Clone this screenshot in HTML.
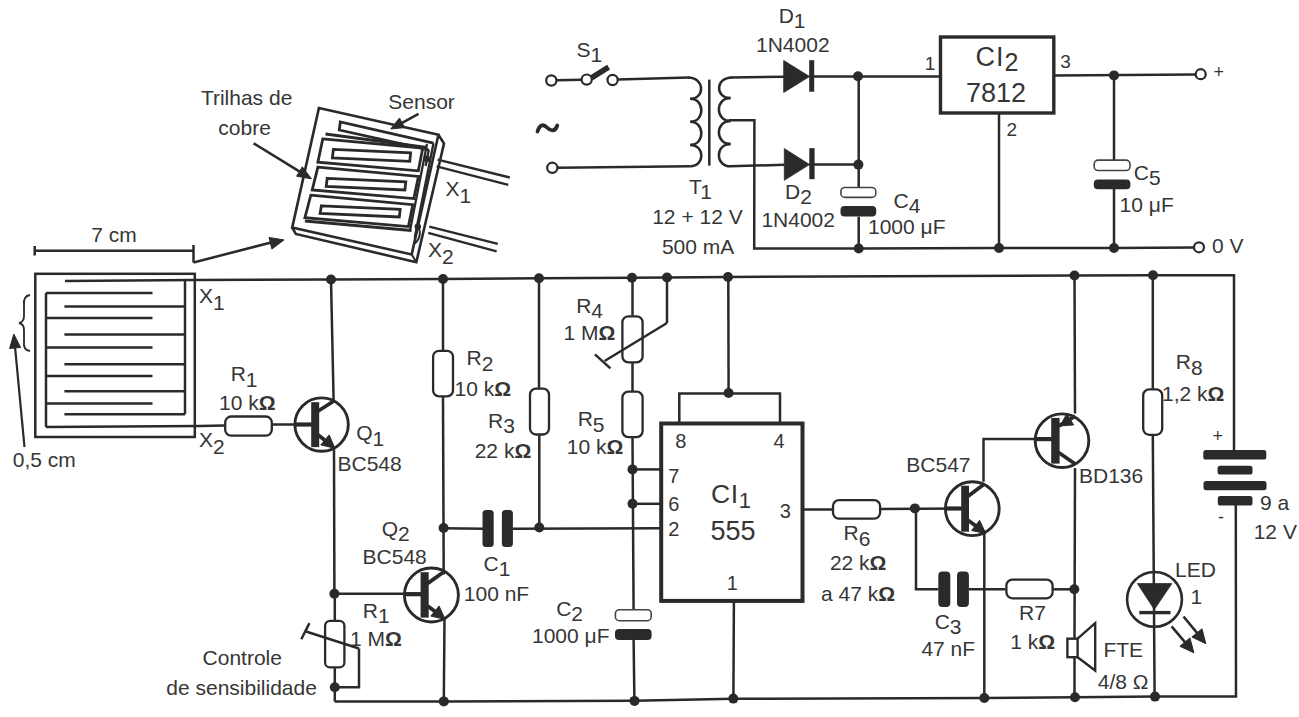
<!DOCTYPE html>
<html><head><meta charset="utf-8"><style>
html,body{margin:0;padding:0;background:#fff;overflow:hidden;}
svg{display:block;}
text{font-family:"Liberation Sans",sans-serif;fill:#363636;}
</style></head><body>
<svg width="1299" height="717" viewBox="0 0 1299 717">
<rect width="1299" height="717" fill="#ffffff"/>
<rect x="35.3" y="273.8" width="159.5" height="163.2" fill="none" stroke="#2a2a2a" stroke-width="2.5"/>
<line x1="46.0" y1="293.0" x2="46.0" y2="427.0" stroke="#2a2a2a" stroke-width="2.5" />
<line x1="46.0" y1="293.0" x2="152.5" y2="293.0" stroke="#2a2a2a" stroke-width="2.5" />
<line x1="46.0" y1="318.0" x2="152.5" y2="318.0" stroke="#2a2a2a" stroke-width="2.5" />
<line x1="46.0" y1="347.4" x2="152.5" y2="347.4" stroke="#2a2a2a" stroke-width="2.5" />
<line x1="46.0" y1="376.0" x2="152.5" y2="376.0" stroke="#2a2a2a" stroke-width="2.5" />
<line x1="46.0" y1="403.5" x2="152.5" y2="403.5" stroke="#2a2a2a" stroke-width="2.5" />
<line x1="185.0" y1="281.0" x2="185.0" y2="414.3" stroke="#2a2a2a" stroke-width="2.5" />
<line x1="64.4" y1="306.6" x2="185.0" y2="306.6" stroke="#2a2a2a" stroke-width="2.5" />
<line x1="64.4" y1="334.5" x2="185.0" y2="334.5" stroke="#2a2a2a" stroke-width="2.5" />
<line x1="64.4" y1="364.3" x2="185.0" y2="364.3" stroke="#2a2a2a" stroke-width="2.5" />
<line x1="64.4" y1="391.3" x2="185.0" y2="391.3" stroke="#2a2a2a" stroke-width="2.5" />
<line x1="64.4" y1="414.3" x2="185.0" y2="414.3" stroke="#2a2a2a" stroke-width="2.5" />
<polyline points="65.0,281.0 195.0,280.0 331.0,279.5 443.0,279.0 539.0,278.3 632.0,277.8 667.0,277.5 728.0,277.0 1074.0,275.5 1153.0,275.3 1234.0,275.3 1234.0,450.8" stroke="#2a2a2a" stroke-width="2.5" fill="none" stroke-linejoin="miter" />
<polyline points="46.0,427.0 200.0,426.0 224.5,425.5" stroke="#2a2a2a" stroke-width="2.5" fill="none" stroke-linejoin="miter" />
<path d="M30,295 Q23,296 24,305 L24,316 Q24,322 19,323 Q24,324 24,330 L24,342 Q23,350 30,351" fill="none" stroke="#2a2a2a" stroke-width="1.8"/>
<line x1="24.5" y1="447.0" x2="14.6" y2="342.4" stroke="#2a2a2a" stroke-width="2.2" />
<polygon points="13.8,334.0 20.6,347.4 9.6,348.5" stroke="#2a2a2a" stroke-width="1" fill="#2a2a2a" stroke-linejoin="miter" />
<line x1="34.7" y1="250.7" x2="193.5" y2="250.7" stroke="#2a2a2a" stroke-width="2.5" />
<line x1="34.7" y1="246.0" x2="34.7" y2="255.5" stroke="#2a2a2a" stroke-width="2.5" />
<line x1="193.5" y1="245.0" x2="193.5" y2="262.5" stroke="#2a2a2a" stroke-width="2.5" />
<line x1="193.5" y1="262.5" x2="275.0" y2="241.5" stroke="#2a2a2a" stroke-width="2.5" />
<polygon points="284.0,239.9 271.9,249.1 269.0,237.5" stroke="#2a2a2a" stroke-width="1" fill="#2a2a2a" stroke-linejoin="miter" />
<rect x="225.2" y="416.5" width="46.6" height="19.2" rx="6" fill="#fff" stroke="#2a2a2a" stroke-width="2.3"/>
<line x1="272.6" y1="424.5" x2="311.0" y2="424.5" stroke="#2a2a2a" stroke-width="2.5" />
<circle cx="321.6" cy="424.6" r="26.7" fill="none" stroke="#2a2a2a" stroke-width="2.9"/>
<line x1="294.9" y1="424.5" x2="312.2" y2="424.5" stroke="#2a2a2a" stroke-width="4.2" />
<rect x="311.2" y="402.2" width="8.0" height="44.9" rx="0" fill="#2a2a2a"/>
<line x1="318.2" y1="411.0" x2="334.7" y2="400.5" stroke="#2a2a2a" stroke-width="3.8" />
<line x1="318.2" y1="435.0" x2="330.3" y2="444.4" stroke="#2a2a2a" stroke-width="3.8" />
<polygon points="334.9,448.3 320.8,444.9 329.2,434.9" stroke="#2a2a2a" stroke-width="1" fill="#2a2a2a" stroke-linejoin="miter" />
<line x1="333.6" y1="400.0" x2="331.0" y2="279.5" stroke="#2a2a2a" stroke-width="2.5" />
<line x1="334.0" y1="447.5" x2="334.4" y2="593.7" stroke="#2a2a2a" stroke-width="2.5" />
<circle cx="331.0" cy="279.5" r="5.0" fill="#2a2a2a"/>
<line x1="443.0" y1="279.0" x2="443.0" y2="350.2" stroke="#2a2a2a" stroke-width="2.5" />
<rect x="433.1" y="350.8" width="19.9" height="45.6" rx="6" fill="#fff" stroke="#2a2a2a" stroke-width="2.3"/>
<line x1="443.0" y1="397.1" x2="443.7" y2="574.4" stroke="#2a2a2a" stroke-width="2.5" />
<circle cx="443.0" cy="279.0" r="5.0" fill="#2a2a2a"/>
<line x1="539.0" y1="278.3" x2="539.0" y2="388.0" stroke="#2a2a2a" stroke-width="2.5" />
<rect x="530.0" y="388.6" width="19.0" height="45.9" rx="6" fill="#fff" stroke="#2a2a2a" stroke-width="2.3"/>
<line x1="539.3" y1="435.2" x2="539.3" y2="527.4" stroke="#2a2a2a" stroke-width="2.5" />
<circle cx="539.0" cy="278.3" r="5.0" fill="#2a2a2a"/>
<line x1="632.5" y1="277.8" x2="632.5" y2="315.7" stroke="#2a2a2a" stroke-width="2.5" />
<rect x="622.4" y="316.3" width="20.2" height="46.1" rx="6" fill="#fff" stroke="#2a2a2a" stroke-width="2.3"/>
<line x1="632.5" y1="363.1" x2="632.5" y2="391.0" stroke="#2a2a2a" stroke-width="2.5" />
<rect x="622.4" y="391.6" width="20.2" height="45.5" rx="6" fill="#fff" stroke="#2a2a2a" stroke-width="2.3"/>
<line x1="632.5" y1="437.8" x2="633.6" y2="610.5" stroke="#2a2a2a" stroke-width="2.5" />
<circle cx="632.0" cy="277.8" r="5.0" fill="#2a2a2a"/>
<circle cx="667.0" cy="277.5" r="5.0" fill="#2a2a2a"/>
<line x1="604.6" y1="361.0" x2="667.0" y2="323.0" stroke="#2a2a2a" stroke-width="2.5" />
<line x1="594.9" y1="354.3" x2="610.4" y2="368.4" stroke="#2a2a2a" stroke-width="2.5" />
<line x1="667.0" y1="323.0" x2="667.0" y2="277.5" stroke="#2a2a2a" stroke-width="2.5" />
<rect x="661.2" y="423.5" width="141.3" height="177.4" fill="none" stroke="#2a2a2a" stroke-width="4"/>
<polyline points="679.3,423.5 679.3,393.4 780.0,393.4 780.0,423.5" stroke="#2a2a2a" stroke-width="2.5" fill="none" stroke-linejoin="miter" />
<line x1="728.6" y1="393.4" x2="728.3" y2="277.0" stroke="#2a2a2a" stroke-width="2.5" />
<circle cx="728.6" cy="393.0" r="5.0" fill="#2a2a2a"/>
<circle cx="728.0" cy="277.0" r="5.0" fill="#2a2a2a"/>
<line x1="632.5" y1="469.4" x2="661.0" y2="469.4" stroke="#2a2a2a" stroke-width="2.5" />
<circle cx="632.5" cy="469.4" r="5.0" fill="#2a2a2a"/>
<line x1="632.5" y1="503.8" x2="661.0" y2="503.8" stroke="#2a2a2a" stroke-width="2.5" />
<circle cx="632.5" cy="503.8" r="5.0" fill="#2a2a2a"/>
<line x1="443.6" y1="528.3" x2="483.0" y2="528.8" stroke="#2a2a2a" stroke-width="2.5" />
<line x1="512.4" y1="528.8" x2="661.0" y2="528.2" stroke="#2a2a2a" stroke-width="2.5" />
<circle cx="443.6" cy="528.0" r="5.0" fill="#2a2a2a"/>
<circle cx="539.3" cy="527.5" r="5.0" fill="#2a2a2a"/>
<line x1="802.5" y1="509.5" x2="832.2" y2="509.5" stroke="#2a2a2a" stroke-width="2.5" />
<line x1="733.9" y1="600.9" x2="733.4" y2="698.6" stroke="#2a2a2a" stroke-width="2.5" />
<rect x="482.5" y="509.9" width="11.2" height="37.1" rx="3.5" fill="#2a2a2a"/>
<rect x="501.9" y="509.9" width="11.0" height="37.1" rx="3.5" fill="#2a2a2a"/>
<rect x="615.4" y="609.7" width="35.8" height="11.0" rx="4" fill="#fff" stroke="#444" stroke-width="1.6"/>
<rect x="615.0" y="629.0" width="36.6" height="10.9" rx="4" fill="#2a2a2a"/>
<line x1="633.6" y1="639.2" x2="634.4" y2="700.9" stroke="#2a2a2a" stroke-width="2.5" />
<circle cx="431.4" cy="595.0" r="27.0" fill="none" stroke="#2a2a2a" stroke-width="2.9"/>
<line x1="404.4" y1="594.2" x2="421.6" y2="594.2" stroke="#2a2a2a" stroke-width="4.2" />
<rect x="420.6" y="572.2" width="8.1" height="45.4" rx="0" fill="#2a2a2a"/>
<line x1="427.7" y1="583.4" x2="444.3" y2="571.5" stroke="#2a2a2a" stroke-width="3.8" />
<line x1="427.7" y1="605.9" x2="440.4" y2="615.5" stroke="#2a2a2a" stroke-width="3.8" />
<polygon points="445.0,619.3 430.8,616.1 439.1,606.0" stroke="#2a2a2a" stroke-width="1" fill="#2a2a2a" stroke-linejoin="miter" />
<line x1="334.4" y1="593.7" x2="420.0" y2="593.7" stroke="#2a2a2a" stroke-width="2.5" />
<circle cx="334.4" cy="593.7" r="5.0" fill="#2a2a2a"/>
<line x1="444.5" y1="618.4" x2="443.8" y2="701.5" stroke="#2a2a2a" stroke-width="2.5" />
<rect x="325.1" y="620.9" width="19.3" height="46.5" rx="5" fill="#fff" stroke="#2a2a2a" stroke-width="2.3"/>
<line x1="334.8" y1="593.7" x2="334.8" y2="620.3" stroke="#2a2a2a" stroke-width="2.5" />
<line x1="334.8" y1="668.1" x2="334.8" y2="701.6" stroke="#2a2a2a" stroke-width="2.5" />
<polyline points="334.8,687.3 359.0,687.3 359.0,648.5" stroke="#2a2a2a" stroke-width="2.5" fill="none" stroke-linejoin="miter" />
<circle cx="334.8" cy="687.3" r="5.0" fill="#2a2a2a"/>
<line x1="305.2" y1="631.2" x2="359.0" y2="648.5" stroke="#2a2a2a" stroke-width="2.5" />
<line x1="301.3" y1="639.3" x2="309.4" y2="623.1" stroke="#2a2a2a" stroke-width="2.5" />
<polyline points="334.8,701.6 443.8,701.4 634.5,700.8 733.5,698.8 984.3,697.9 1075.0,697.2 1155.0,696.6 1236.0,696.5 1235.8,504.3" stroke="#2a2a2a" stroke-width="2.5" fill="none" stroke-linejoin="miter" />
<circle cx="443.8" cy="701.4" r="5.0" fill="#2a2a2a"/>
<circle cx="634.5" cy="700.9" r="5.0" fill="#2a2a2a"/>
<circle cx="733.3" cy="698.6" r="5.0" fill="#2a2a2a"/>
<circle cx="984.3" cy="698.0" r="5.0" fill="#2a2a2a"/>
<circle cx="1075.0" cy="697.2" r="5.0" fill="#2a2a2a"/>
<circle cx="1155.0" cy="696.6" r="5.0" fill="#2a2a2a"/>
<rect x="833.0" y="500.1" width="47.1" height="18.6" rx="6" fill="#fff" stroke="#2a2a2a" stroke-width="2.3"/>
<line x1="880.8" y1="509.0" x2="961.3" y2="508.4" stroke="#2a2a2a" stroke-width="2.5" />
<circle cx="914.9" cy="508.4" r="5.0" fill="#2a2a2a"/>
<circle cx="972.3" cy="508.7" r="26.9" fill="none" stroke="#2a2a2a" stroke-width="2.9"/>
<line x1="945.4" y1="508.5" x2="962.2" y2="508.5" stroke="#2a2a2a" stroke-width="4.2" />
<rect x="961.2" y="485.7" width="7.8" height="46.0" rx="0" fill="#2a2a2a"/>
<line x1="968.0" y1="496.2" x2="984.0" y2="484.3" stroke="#2a2a2a" stroke-width="3.8" />
<line x1="968.0" y1="520.2" x2="981.1" y2="529.8" stroke="#2a2a2a" stroke-width="3.8" />
<polygon points="985.8,533.5 971.6,530.5 979.6,520.3" stroke="#2a2a2a" stroke-width="1" fill="#2a2a2a" stroke-linejoin="miter" />
<polyline points="983.5,481.8 983.5,438.9 1052.0,438.9" stroke="#2a2a2a" stroke-width="2.5" fill="none" stroke-linejoin="miter" />
<line x1="984.3" y1="532.7" x2="984.3" y2="697.7" stroke="#2a2a2a" stroke-width="2.5" />
<polyline points="916.0,508.4 916.0,589.3 938.3,589.3" stroke="#2a2a2a" stroke-width="2.5" fill="none" stroke-linejoin="miter" />
<rect x="938.3" y="571.6" width="12.0" height="35.4" rx="4" fill="#2a2a2a"/>
<rect x="957.0" y="571.6" width="11.9" height="35.4" rx="4" fill="#2a2a2a"/>
<line x1="968.9" y1="589.3" x2="1005.6" y2="589.3" stroke="#2a2a2a" stroke-width="2.5" />
<rect x="1006.4" y="579.6" width="46.2" height="18.7" rx="6" fill="#fff" stroke="#2a2a2a" stroke-width="2.3"/>
<line x1="1053.3" y1="589.3" x2="1074.3" y2="589.3" stroke="#2a2a2a" stroke-width="2.5" />
<circle cx="1074.3" cy="589.3" r="5.0" fill="#2a2a2a"/>
<circle cx="1062" cy="440.7" r="26.8" fill="none" stroke="#2a2a2a" stroke-width="2.9"/>
<line x1="1035.2" y1="439.1" x2="1052.2" y2="439.1" stroke="#2a2a2a" stroke-width="4.2" />
<rect x="1051.2" y="417.9" width="8.4" height="45.7" rx="0" fill="#2a2a2a"/>
<line x1="1058.6" y1="452.5" x2="1075.2" y2="464.0" stroke="#2a2a2a" stroke-width="3.8" />
<line x1="1075.2" y1="416.2" x2="1058.6" y2="426.2" stroke="#2a2a2a" stroke-width="3.8" />
<polygon points="1060.1,425.9 1066.7,413.9 1073.7,424.9" stroke="#2a2a2a" stroke-width="1" fill="#2a2a2a" stroke-linejoin="miter" />
<line x1="1075.0" y1="413.4" x2="1074.5" y2="275.5" stroke="#2a2a2a" stroke-width="2.5" />
<line x1="1075.0" y1="468.0" x2="1074.5" y2="638.7" stroke="#2a2a2a" stroke-width="2.5" />
<line x1="1074.5" y1="657.2" x2="1074.5" y2="697.0" stroke="#2a2a2a" stroke-width="2.5" />
<circle cx="1074.5" cy="275.5" r="5.0" fill="#2a2a2a"/>
<circle cx="1153.0" cy="275.3" r="5.0" fill="#2a2a2a"/>
<rect x="1067.4" y="638.7" width="10.2" height="18.5" fill="none" stroke="#2a2a2a" stroke-width="2.4"/>
<polyline points="1077.6,638.7 1095.2,623.2 1095.2,670.5 1077.6,657.2" stroke="#2a2a2a" stroke-width="2.4" fill="none" stroke-linejoin="miter" />
<line x1="1152.8" y1="275.3" x2="1152.8" y2="388.8" stroke="#2a2a2a" stroke-width="2.5" />
<rect x="1143.2" y="389.4" width="19.0" height="45.4" rx="6" fill="#fff" stroke="#2a2a2a" stroke-width="2.3"/>
<line x1="1152.8" y1="435.5" x2="1154.6" y2="696.6" stroke="#2a2a2a" stroke-width="2.5" />
<circle cx="1154.5" cy="599.4" r="27.4" fill="none" stroke="#2a2a2a" stroke-width="2.6"/>
<polygon points="1137.4,583.6 1171.9,583.6 1154.3,609.5" stroke="#2a2a2a" stroke-width="0.8" fill="#2a2a2a" stroke-linejoin="miter" />
<line x1="1139.3" y1="612.6" x2="1170.5" y2="612.6" stroke="#2a2a2a" stroke-width="3.4" />
<line x1="1171.6" y1="626.3" x2="1188.5" y2="646.4" stroke="#2a2a2a" stroke-width="2.6" />
<polygon points="1193.9,652.8 1179.9,646.3 1189.9,637.9" stroke="#2a2a2a" stroke-width="1" fill="#2a2a2a" stroke-linejoin="miter" />
<line x1="1183.5" y1="616.5" x2="1200.5" y2="637.2" stroke="#2a2a2a" stroke-width="2.6" />
<polygon points="1205.8,643.7 1191.9,637.0 1202.0,628.8" stroke="#2a2a2a" stroke-width="1" fill="#2a2a2a" stroke-linejoin="miter" />
<rect x="1203.3" y="450.1" width="63.0" height="9.4" rx="2.6" fill="#2a2a2a"/>
<rect x="1217.6" y="465.7" width="34.9" height="8.9" rx="2.6" fill="#2a2a2a"/>
<rect x="1203.5" y="480.9" width="63.0" height="9.3" rx="2.6" fill="#2a2a2a"/>
<rect x="1217.8" y="496.0" width="34.7" height="9.5" rx="2.6" fill="#2a2a2a"/>
<circle cx="551.3" cy="80.5" r="5.1" fill="#fff" stroke="#2a2a2a" stroke-width="2.2"/>
<circle cx="586.7" cy="79.6" r="5.1" fill="#fff" stroke="#2a2a2a" stroke-width="2.2"/>
<circle cx="612.6" cy="80.0" r="5.1" fill="#fff" stroke="#2a2a2a" stroke-width="2.2"/>
<circle cx="552.3" cy="167.8" r="5.1" fill="#fff" stroke="#2a2a2a" stroke-width="2.2"/>
<line x1="556.4" y1="80.3" x2="581.6" y2="79.8" stroke="#2a2a2a" stroke-width="2.5" />
<line x1="591.5" y1="77.8" x2="608.6" y2="67.2" stroke="#2a2a2a" stroke-width="5.5" />
<line x1="617.7" y1="79.6" x2="689.0" y2="77.6" stroke="#2a2a2a" stroke-width="2.5" />
<line x1="557.4" y1="167.7" x2="690.5" y2="166.3" stroke="#2a2a2a" stroke-width="2.5" />
<path d="M688,77.6 C705,77.6 705,98.8 690.3,98.8 C705,98.8 705,121.8 690.3,121.8 C705,121.8 705,144.9 690.3,144.9 C705,144.9 705,166.3 690.3,166.3 " fill="none" stroke="#2a2a2a" stroke-width="2.5"/>
<line x1="690.3" y1="98.8" x2="694.0" y2="98.8" stroke="#2a2a2a" stroke-width="2.5" />
<line x1="690.3" y1="121.8" x2="694.0" y2="121.8" stroke="#2a2a2a" stroke-width="2.5" />
<line x1="690.3" y1="144.9" x2="694.0" y2="144.9" stroke="#2a2a2a" stroke-width="2.5" />
<line x1="709.3" y1="79.6" x2="709.3" y2="165.6" stroke="#2a2a2a" stroke-width="2.5" />
<path d="M732,77.4 C715,77.4 715,98 730.5,98 C715,98 715,121 730.5,121 C715,121 715,144 730.5,144 C715,144 715,166.3 730.5,166.3 " fill="none" stroke="#2a2a2a" stroke-width="2.5"/>
<line x1="726.0" y1="98.0" x2="730.5" y2="98.0" stroke="#2a2a2a" stroke-width="2.5" />
<line x1="726.0" y1="121.0" x2="730.5" y2="121.0" stroke="#2a2a2a" stroke-width="2.5" />
<line x1="726.0" y1="144.0" x2="730.5" y2="144.0" stroke="#2a2a2a" stroke-width="2.5" />
<polyline points="729.0,120.3 754.4,120.3 754.2,248.5 858.7,248.5 999.0,248.0 1114.0,248.0 1195.0,247.5" stroke="#2a2a2a" stroke-width="2.5" fill="none" stroke-linejoin="miter" />
<line x1="731.0" y1="77.4" x2="784.0" y2="76.8" stroke="#2a2a2a" stroke-width="2.5" />
<line x1="730.0" y1="166.2" x2="784.5" y2="164.8" stroke="#2a2a2a" stroke-width="2.5" />
<polygon points="783.7,60.5 783.7,92.5 809.5,76.5" stroke="#2a2a2a" stroke-width="0.8" fill="#2a2a2a" stroke-linejoin="miter" />
<rect x="809.2" y="60.2" width="5.0" height="31.5" rx="0" fill="#2a2a2a"/>
<polygon points="784.3,148.6 784.3,180.3 809.5,164.5" stroke="#2a2a2a" stroke-width="0.8" fill="#2a2a2a" stroke-linejoin="miter" />
<rect x="809.3" y="148.2" width="5.3" height="31.0" rx="0" fill="#2a2a2a"/>
<line x1="809.0" y1="76.6" x2="940.5" y2="76.4" stroke="#2a2a2a" stroke-width="2.5" />
<line x1="809.0" y1="164.6" x2="858.5" y2="164.6" stroke="#2a2a2a" stroke-width="2.5" />
<line x1="858.7" y1="77.2" x2="858.7" y2="187.3" stroke="#2a2a2a" stroke-width="2.5" />
<line x1="858.7" y1="216.7" x2="858.7" y2="248.5" stroke="#2a2a2a" stroke-width="2.5" />
<circle cx="858.0" cy="76.2" r="5.0" fill="#2a2a2a"/>
<circle cx="858.4" cy="164.6" r="5.0" fill="#2a2a2a"/>
<circle cx="858.7" cy="248.5" r="5.0" fill="#2a2a2a"/>
<rect x="840.9" y="187.5" width="34.9" height="9.9" rx="4" fill="#fff" stroke="#444" stroke-width="1.6"/>
<rect x="840.5" y="206.0" width="35.7" height="10.6" rx="4" fill="#2a2a2a"/>
<rect x="940.5" y="37.0" width="113.3" height="76.0" fill="none" stroke="#2a2a2a" stroke-width="3.4"/>
<line x1="1053.8" y1="75.4" x2="1195.7" y2="74.5" stroke="#2a2a2a" stroke-width="2.5" />
<line x1="999.0" y1="113.0" x2="999.0" y2="248.0" stroke="#2a2a2a" stroke-width="2.5" />
<circle cx="999.0" cy="248.0" r="5.0" fill="#2a2a2a"/>
<line x1="1114.0" y1="75.4" x2="1114.0" y2="160.0" stroke="#2a2a2a" stroke-width="2.5" />
<line x1="1114.0" y1="189.0" x2="1114.0" y2="248.0" stroke="#2a2a2a" stroke-width="2.5" />
<circle cx="1114.0" cy="75.4" r="5.0" fill="#2a2a2a"/>
<circle cx="1114.0" cy="248.0" r="5.0" fill="#2a2a2a"/>
<rect x="1094.2" y="160.1" width="35.8" height="10.4" rx="4" fill="#fff" stroke="#444" stroke-width="1.6"/>
<rect x="1093.8" y="179.5" width="36.6" height="9.8" rx="4" fill="#2a2a2a"/>
<circle cx="1200.7" cy="74.2" r="5" fill="#fff" stroke="#2a2a2a" stroke-width="2.2"/>
<circle cx="1199.0" cy="247.3" r="5" fill="#fff" stroke="#2a2a2a" stroke-width="2.2"/>
<path d="M537.5,131.5 C539.5,125 543,123.5 547,127.5 C551,131.5 555,132 557.3,125.5" fill="none" stroke="#2a2a2a" stroke-width="3.8" stroke-linecap="round"/>
<polygon points="318.9,108.1 438.4,134.8 411.7,254.4 292.2,227.6" stroke="#2a2a2a" stroke-width="2.6" fill="#fff" stroke-linejoin="miter" />
<polyline points="438.4,134.8 444.0,143.6 416.3,262.2 295.8,233.9 292.2,227.6" stroke="#2a2a2a" stroke-width="2.6" fill="none" stroke-linejoin="miter" />
<line x1="411.7" y1="254.4" x2="416.3" y2="262.2" stroke="#2a2a2a" stroke-width="2" />
<polyline points="433.5,143.2 340.3,122.0 339.3,130.0 428.8,149.8" stroke="#2a2a2a" stroke-width="2.8" fill="none" stroke-linejoin="miter" />
<polyline points="325.5,134.0 427.0,147.5" stroke="#2a2a2a" stroke-width="2.8" fill="none" stroke-linejoin="miter" />
<polygon points="322.8,138.8 422.8,148.1 418.3,170.8 317.9,162.2" stroke="#2a2a2a" stroke-width="2.8" fill="none" stroke-linejoin="miter" />
<polygon points="317.9,167.1 418.5,176.4 413.8,198.6 312.2,189.9" stroke="#2a2a2a" stroke-width="2.8" fill="none" stroke-linejoin="miter" />
<polygon points="310.8,195.2 412.8,204.7 408.4,226.6 304.9,217.7" stroke="#2a2a2a" stroke-width="2.8" fill="none" stroke-linejoin="miter" />
<polygon points="333.4,149.3 410.6,152.8 409.8,161.4 332.4,157.9" stroke="#2a2a2a" stroke-width="2.8" fill="none" stroke-linejoin="miter" />
<polygon points="327.2,178.3 405.8,181.9 404.9,190.0 326.2,186.4" stroke="#2a2a2a" stroke-width="2.8" fill="none" stroke-linejoin="miter" />
<polygon points="321.4,205.8 400.2,209.4 399.3,217.0 320.1,213.4" stroke="#2a2a2a" stroke-width="2.8" fill="none" stroke-linejoin="miter" />
<polyline points="304.9,221.0 411.5,230.5" stroke="#2a2a2a" stroke-width="2.8" fill="none" stroke-linejoin="miter" />
<polyline points="433.5,143.2 414.8,237.5" stroke="#2a2a2a" stroke-width="2.4" fill="none" stroke-linejoin="miter" />
<polyline points="428.8,149.8 425.6,166.0" stroke="#2a2a2a" stroke-width="2.3" fill="none" stroke-linejoin="miter" />
<polyline points="427.0,144.0 410.0,230.5" stroke="#2a2a2a" stroke-width="2.3" fill="none" stroke-linejoin="miter" />
<path d="M417.8,226.6 C421.5,231 420,240 414,244" fill="none" stroke="#2a2a2a" stroke-width="2"/>
<polyline points="437.6,159.7 509.8,177.5" stroke="#2a2a2a" stroke-width="2.4" fill="none" stroke-linejoin="miter" />
<polyline points="436.6,166.4 508.3,184.8" stroke="#2a2a2a" stroke-width="2.4" fill="none" stroke-linejoin="miter" />
<polyline points="429.3,226.6 497.8,243.8" stroke="#2a2a2a" stroke-width="2.4" fill="none" stroke-linejoin="miter" />
<polyline points="428.2,232.9 496.6,251.3" stroke="#2a2a2a" stroke-width="2.4" fill="none" stroke-linejoin="miter" />
<circle cx="426.8" cy="158.7" r="3.2" fill="#2a2a2a"/>
<circle cx="417.8" cy="226.6" r="3.2" fill="#2a2a2a"/>
<line x1="253.6" y1="143.3" x2="304.2" y2="174.4" stroke="#2a2a2a" stroke-width="2.6" />
<polygon points="311.4,178.8 296.6,176.2 302.3,166.8" stroke="#2a2a2a" stroke-width="1" fill="#2a2a2a" stroke-linejoin="miter" />
<line x1="418.5" y1="113.9" x2="397.6" y2="125.3" stroke="#2a2a2a" stroke-width="2.6" />
<polygon points="390.7,129.0 399.5,118.0 404.7,127.6" stroke="#2a2a2a" stroke-width="1" fill="#2a2a2a" stroke-linejoin="miter" />
<text x="200.9" y="105.0" font-size="21">Trilhas de</text>
<text x="218.3" y="135.2" font-size="21">cobre</text>
<text x="388.3" y="108.6" font-size="21">Sensor</text>
<text x="445.4" y="195.7" font-size="21">X<tspan dy="7">1</tspan></text>
<text x="427.9" y="257.4" font-size="21">X<tspan dy="7">2</tspan></text>
<text x="91.2" y="242.0" font-size="21">7 cm</text>
<text x="199.0" y="303.0" font-size="21">X<tspan dy="7">1</tspan></text>
<text x="199.0" y="447.0" font-size="21">X<tspan dy="7">2</tspan></text>
<text x="12.8" y="467.3" font-size="21">0,5 cm</text>
<text x="230.7" y="381.0" font-size="21">R<tspan dy="5.5">1</tspan></text>
<text x="219.0" y="409.8" font-size="21">10 k<tspan font-weight="bold">Ω</tspan></text>
<text x="356.2" y="440.3" font-size="21">Q<tspan dy="5.5">1</tspan></text>
<text x="337.5" y="471.4" font-size="21">BC548</text>
<text x="466.6" y="365.0" font-size="21">R<tspan dy="5.5">2</tspan></text>
<text x="454.6" y="395.8" font-size="21">10 k<tspan font-weight="bold">Ω</tspan></text>
<text x="488.0" y="427.8" font-size="21">R<tspan dy="5.5">3</tspan></text>
<text x="474.7" y="458.0" font-size="21">22 k<tspan font-weight="bold">Ω</tspan></text>
<text x="576.2" y="312.6" font-size="21">R<tspan dy="5.5">4</tspan></text>
<text x="563.6" y="340.0" font-size="21">1 M<tspan font-weight="bold">Ω</tspan></text>
<text x="577.7" y="426.4" font-size="21">R<tspan dy="5.5">5</tspan></text>
<text x="566.8" y="453.7" font-size="21">10 k<tspan font-weight="bold">Ω</tspan></text>
<text x="675.3" y="447.5" font-size="20">8</text>
<text x="773.4" y="447.5" font-size="20">4</text>
<text x="668.3" y="482.7" font-size="20">7</text>
<text x="668.3" y="510.5" font-size="20">6</text>
<text x="668.3" y="536.2" font-size="20">2</text>
<text x="779.7" y="517.8" font-size="20">3</text>
<text x="726.8" y="589.8" font-size="20">1</text>
<text x="711.0" y="503.4" font-size="26.5"><tspan letter-spacing="0.6">CI</tspan><tspan dy="5" font-size="22">1</tspan></text>
<text x="710.4" y="539.6" font-size="27">555</text>
<text x="483.5" y="570.8" font-size="21">C<tspan dy="5.5">1</tspan></text>
<text x="463.8" y="601.2" font-size="21">100 nF</text>
<text x="556.2" y="615.6" font-size="21">C<tspan dy="5.5">2</tspan></text>
<text x="532.0" y="642.5" font-size="21">1000 μF</text>
<text x="381.7" y="535.9" font-size="21">Q<tspan dy="5.5">2</tspan></text>
<text x="362.6" y="564.0" font-size="21">BC548</text>
<text x="362.8" y="617.5" font-size="21">R<tspan dy="5.5">1</tspan></text>
<text x="350.0" y="646.3" font-size="21">1 M<tspan font-weight="bold">Ω</tspan></text>
<text x="202.6" y="664.7" font-size="21">Controle</text>
<text x="166.3" y="694.7" font-size="21">de sensibilidade</text>
<text x="906.3" y="471.5" font-size="21">BC547</text>
<text x="843.5" y="540.0" font-size="21">R<tspan dy="5.5">6</tspan></text>
<text x="829.9" y="569.8" font-size="21">22 k<tspan font-weight="bold">Ω</tspan></text>
<text x="821.0" y="600.8" font-size="21">a 47 k<tspan font-weight="bold">Ω</tspan></text>
<text x="934.7" y="628.5" font-size="21">C<tspan dy="5.5">3</tspan></text>
<text x="921.4" y="656.4" font-size="21">47 nF</text>
<text x="1019.0" y="619.7" font-size="21">R7</text>
<text x="1010.2" y="649.4" font-size="21">1 k<tspan font-weight="bold">Ω</tspan></text>
<text x="1079.0" y="482.5" font-size="21">BD136</text>
<text x="1175.8" y="369.0" font-size="21">R<tspan dy="5.5">8</tspan></text>
<text x="1162.0" y="400.8" font-size="21">1,2 k<tspan font-weight="bold">Ω</tspan></text>
<text x="1212.5" y="442.0" font-size="18">+</text>
<text x="1218.0" y="522.5" font-size="18">-</text>
<text x="1260.0" y="510.4" font-size="21">9 a</text>
<text x="1253.7" y="538.6" font-size="21">12 V</text>
<text x="1175.0" y="576.7" font-size="21">LED</text>
<text x="1190.5" y="604.0" font-size="21">1</text>
<text x="1103.4" y="657.0" font-size="21">FTE</text>
<text x="1097.8" y="689.0" font-size="21">4/8 Ω</text>
<text x="576.5" y="56.7" font-size="21">S<tspan dy="5">1</tspan></text>
<text x="689.0" y="194.3" font-size="21">T<tspan dy="5" dx="-1.5">1</tspan></text>
<text x="652.2" y="224.0" font-size="21">12 + 12 V</text>
<text x="661.9" y="253.6" font-size="21">500 mA</text>
<text x="778.7" y="23.4" font-size="21">D<tspan dy="5">1</tspan></text>
<text x="756.0" y="51.7" font-size="21">1N4002</text>
<text x="785.0" y="198.6" font-size="21">D<tspan dy="5">2</tspan></text>
<text x="761.4" y="226.9" font-size="21">1N4002</text>
<text x="893.5" y="208.0" font-size="21">C<tspan dy="5">4</tspan></text>
<text x="868.0" y="234.4" font-size="21">1000 μF</text>
<text x="924.7" y="69.5" font-size="19">1</text>
<text x="975.5" y="66.0" font-size="27"><tspan letter-spacing="1">CI</tspan><tspan dy="5" font-size="25">2</tspan></text>
<text x="966.0" y="101.9" font-size="27">7812</text>
<text x="1060.3" y="67.6" font-size="19">3</text>
<text x="1006.4" y="135.5" font-size="19">2</text>
<text x="1213.5" y="77.5" font-size="18">+</text>
<text x="1212.0" y="253.3" font-size="21">0 V</text>
<text x="1133.8" y="179.8" font-size="21">C<tspan dy="5">5</tspan></text>
<text x="1119.6" y="211.8" font-size="21">10 μF</text>
</svg></body></html>
